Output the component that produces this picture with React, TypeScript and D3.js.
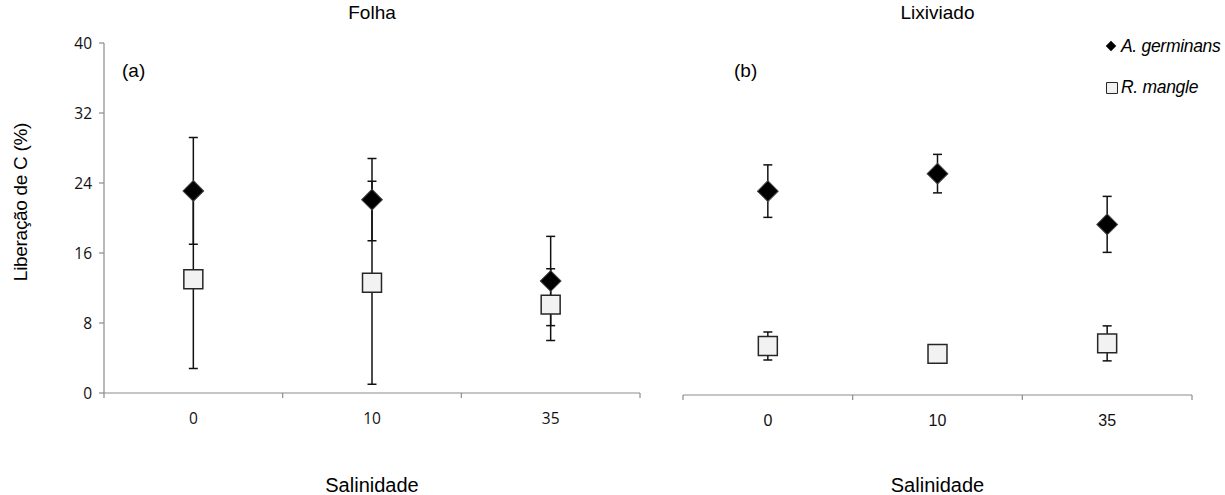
import React, { useRef, useEffect } from "react";
import * as d3 from "d3";

// salinity classes
const categories = ["0", "10", "35"];
const yTicks = [0, 8, 16, 24, 32, 40];

// Folha (a)
const folhaAG = [23.1, 22.1, 12.8];
const folhaAGErr = [6.1, 4.7, 5.1];
const folhaRM = [13.0, 12.6, 10.1];
const folhaRMErr = [10.2, 11.6, 4.1];

// Lixiviado (b)
const lixAG = [23.3, 25.3, 19.5];
const lixAGErr = [3.0, 2.2, 3.2];
const lixRM = [5.6, 4.7, 5.9];
const lixRMErr = [1.6, 0.5, 2.0];

const seriesNames = ["A. germinans", "R. mangle"];

const W = 1225;
const H = 495;
const ARIAL = "'Liberation Sans', Arial, sans-serif";

const App = () => {
  const svgRef = useRef<SVGSVGElement>(null);

  useEffect(() => {
    const svg = d3.select(svgRef.current);
    svg.selectAll("*").remove();

    const panels = [
      { title: "Folha", tag: "(a)", tagX: 122, x0: 104, x1: 640, base: 393, showY: true, tickFont: "'Open Sans', sans-serif", tickSize: 15.5, ag: folhaAG, agE: folhaAGErr, rm: folhaRM, rmE: folhaRMErr },
      { title: "Lixiviado", tag: "(b)", tagX: 734, x0: 683, x1: 1192, base: 395, showY: false, tickFont: ARIAL, tickSize: 16, ag: lixAG, agE: lixAGErr, rm: lixRM, rmE: lixRMErr },
    ];

    panels.forEach((p) => {
      const g = svg.append("g");
      const x = d3.scaleBand().domain(categories).range([p.x0, p.x1]);
      const y = d3.scaleLinear().domain([0, 40]).range([p.base, p.base - 350]);
      const cx = (c: string) => (x(c) as number) + x.bandwidth() / 2;

      // x axis
      g.append("line")
        .attr("x1", p.x0).attr("x2", p.x1)
        .attr("y1", p.base).attr("y2", p.base)
        .attr("stroke", "#8c8c8c").attr("stroke-width", 1.2);
      const bounds = categories.map((c) => x(c) as number).concat([p.x1]);
      g.selectAll(".xt")
        .data(bounds)
        .join("line")
        .attr("x1", (d) => d).attr("x2", (d) => d)
        .attr("y1", p.base).attr("y2", p.base + 5)
        .attr("stroke", "#8c8c8c").attr("stroke-width", 1.2);
      g.selectAll(".xl")
        .data(categories)
        .join("text")
        .attr("x", (d) => cx(d))
        .attr("y", p.base + 31)
        .attr("text-anchor", "middle")
        .attr("font-family", p.tickFont)
        .attr("font-size", p.tickSize)
        .attr("fill", "#111")
        .text((d) => d);

      // y axis
      if (p.showY) {
        g.append("line")
          .attr("x1", p.x0).attr("x2", p.x0)
          .attr("y1", y(0)).attr("y2", y(40))
          .attr("stroke", "#8c8c8c").attr("stroke-width", 1.2);
        g.selectAll(".yt")
          .data(yTicks)
          .join("line")
          .attr("x1", p.x0 - 5).attr("x2", p.x0)
          .attr("y1", (d) => y(d)).attr("y2", (d) => y(d))
          .attr("stroke", "#8c8c8c").attr("stroke-width", 1.2);
        g.selectAll(".yl")
          .data(yTicks)
          .join("text")
          .attr("x", p.x0 - 12)
          .attr("y", (d) => y(d) + 5.5)
          .attr("text-anchor", "end")
          .attr("font-family", p.tickFont)
          .attr("font-size", p.tickSize)
          .attr("fill", "#111")
          .text((d) => d);
      }

      // titles
      g.append("text")
        .attr("x", (p.x0 + p.x1) / 2).attr("y", 19)
        .attr("text-anchor", "middle")
        .attr("font-family", ARIAL)
        .attr("font-size", 19)
        .text(p.title);
      g.append("text")
        .attr("x", (p.x0 + p.x1) / 2).attr("y", 492)
        .attr("text-anchor", "middle")
        .attr("font-family", ARIAL)
        .attr("font-size", 20)
        .text("Salinidade");
      g.append("text")
        .attr("x", p.tagX).attr("y", 77)
        .attr("font-family", ARIAL)
        .attr("font-size", 19)
        .text(p.tag);

      // error bars then markers
      const series = [
        { v: p.ag, e: p.agE },
        { v: p.rm, e: p.rmE },
      ];
      series.forEach((s) => {
        categories.forEach((c, i) => {
          const xc = cx(c);
          const hi = y(s.v[i] + s.e[i]);
          const lo = y(s.v[i] - s.e[i]);
          g.append("line").attr("x1", xc).attr("x2", xc).attr("y1", hi).attr("y2", lo)
            .attr("stroke", "#111").attr("stroke-width", 1.5);
          [hi, lo].forEach((yy) =>
            g.append("line").attr("x1", xc - 4.5).attr("x2", xc + 4.5).attr("y1", yy).attr("y2", yy)
              .attr("stroke", "#111").attr("stroke-width", 1.5)
          );
        });
      });

      const square = d3.symbol().type(d3.symbolSquare);
      categories.forEach((c, i) => {
        g.append("path")
          .attr("d", square.size(360)())
          .attr("transform", `translate(${cx(c)},${y(p.rm[i])})`)
          .attr("fill", "#f2f2f2").attr("stroke", "#262626").attr("stroke-width", 1.5);
      });
      categories.forEach((c, i) => {
        g.append("path")
          .attr("d", square.size(215)())
          .attr("transform", `translate(${cx(c)},${y(p.ag[i])}) rotate(45)`)
          .attr("fill", "#000").attr("stroke", "#444").attr("stroke-width", 1);
      });
    });

    // y label
    svg.append("text")
      .attr("transform", "translate(27,202) rotate(-90)")
      .attr("text-anchor", "middle")
      .attr("font-family", ARIAL)
      .attr("font-size", 19)
      .attr("letter-spacing", -0.3)
      .text("Liberação de C (%)");

    // legend
    const lg = svg.append("g");
    const sq = d3.symbol().type(d3.symbolSquare);
    lg.append("path").attr("d", sq.size(55)())
      .attr("transform", "translate(1111,46) rotate(45)").attr("fill", "#000");
    lg.append("path").attr("d", sq.size(120)())
      .attr("transform", "translate(1112,88)").attr("fill", "#f2f2f2").attr("stroke", "#262626").attr("stroke-width", 1);
    seriesNames.forEach((n, i) => {
      lg.append("text")
        .attr("x", 1121).attr("y", 52 + i * 41)
        .attr("font-family", ARIAL)
        .attr("font-style", "italic")
        .attr("font-size", 17.5)
        .attr("letter-spacing", -0.3)
        .text(n);
    });
  }, []);

  return (
    <svg ref={svgRef} width={W} height={H} style={{ position: "absolute", left: 0, top: 0, background: "#fff" }} />
  );
};

export default App;
